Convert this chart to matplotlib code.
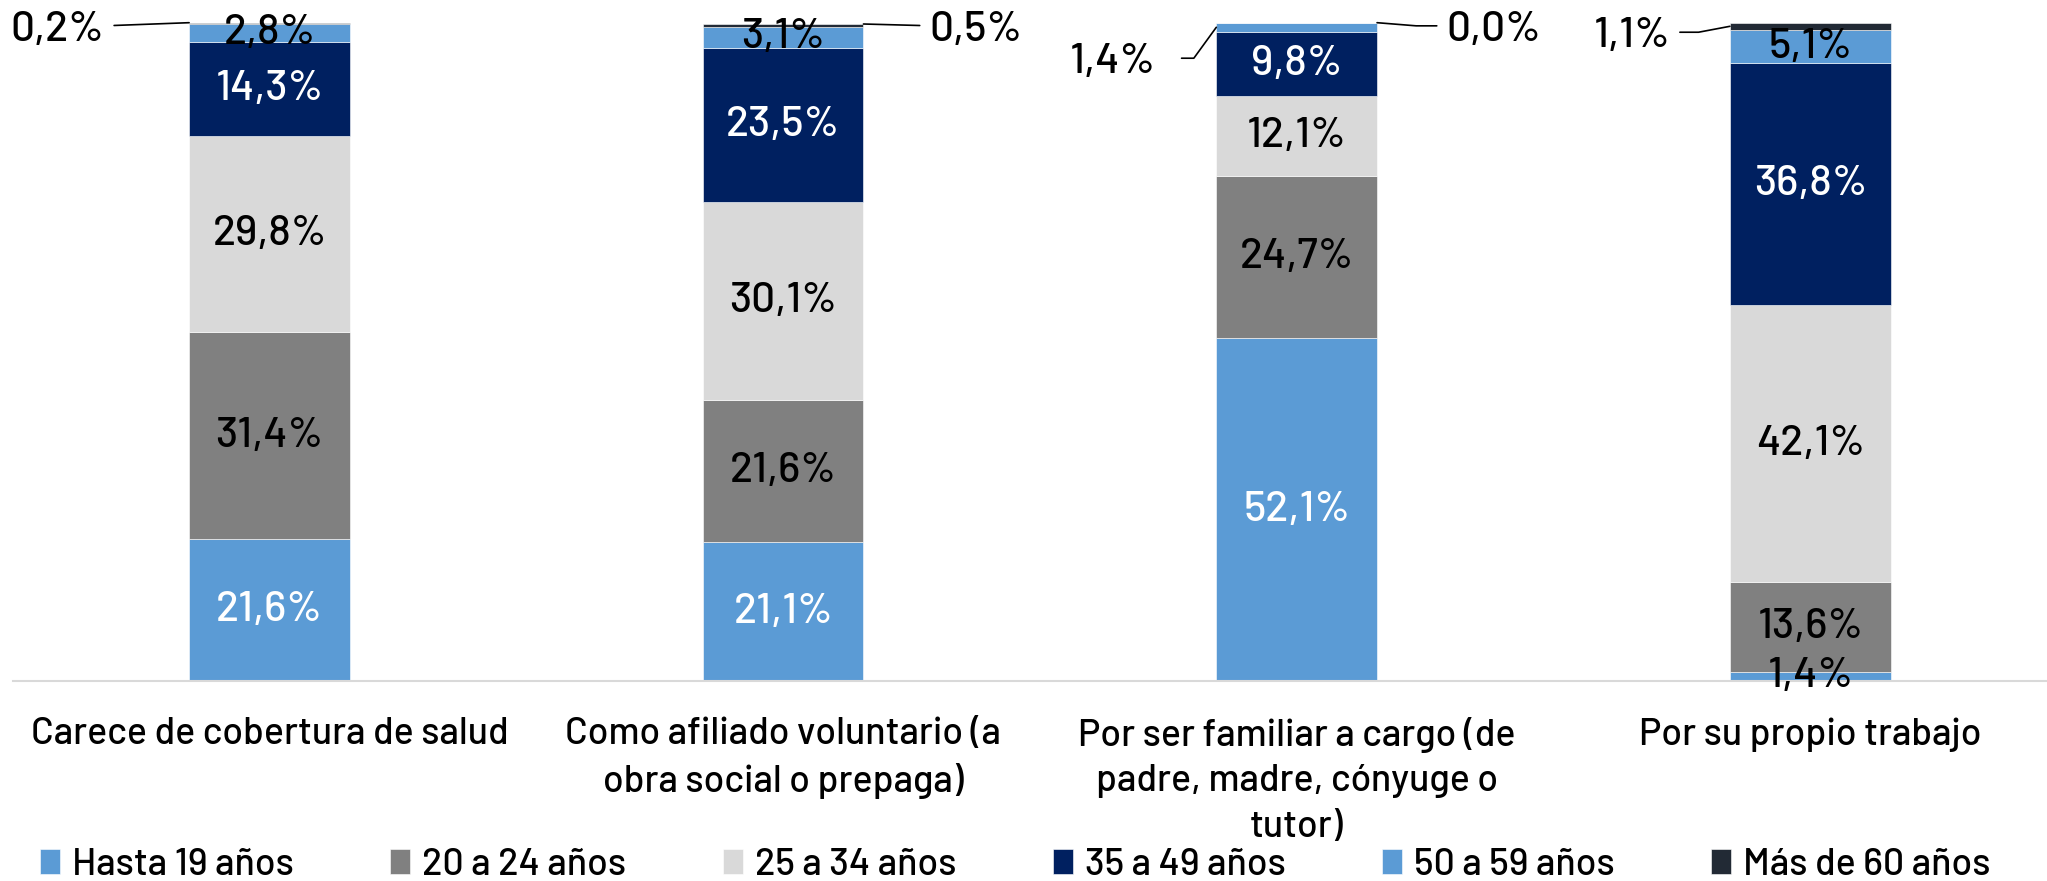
import matplotlib.pyplot as plt
import numpy as np

categorias = ["Carece de cobertura de salud",
              "Como afiliado voluntario (a\nobra social o prepaga)",
              "Por ser familiar a cargo (de\npadre, madre, cónyuge o\ntutor)",
              "Por su propio trabajo"]
series = ["Hasta 19 años", "20 a 24 años", "25 a 34 años",
          "35 a 49 años", "50 a 59 años", "Más de 60 años"]
hasta19 = [21.6, 21.1, 52.1, 1.4]
de20a24 = [31.4, 21.6, 24.7, 13.6]
de25a34 = [29.8, 30.1, 12.1, 42.1]
de35a49 = [14.3, 23.5, 9.8, 36.8]
de50a59 = [2.8, 3.1, 1.4, 5.1]
mas60 = [0.2, 0.5, 0.0, 1.1]

valores = [hasta19, de20a24, de25a34, de35a49, de50a59, mas60]
colores = ["#5B9BD5", "#808080", "#D9D9D9", "#002060", "#5B9BD5", "#222A35"]
color_texto = ["white", "black", "black", "white", "black", "black"]

plt.rcParams['font.family'] = ['Barlow', 'Roboto', 'DejaVu Sans']
plt.rcParams['font.weight'] = 'medium'

fig = plt.figure(figsize=(20.47, 8.81), dpi=100)
ax = fig.add_axes([0.0062, 0.227, 1.0036, 0.7465])

x = np.arange(len(categorias))
ancho = 0.313
base = np.zeros(len(categorias))
for i, (vals, nombre) in enumerate(zip(valores, series)):
    vals = np.array(vals)
    ax.bar(x, vals, ancho, bottom=base, color=colores[i], label=nombre,
           edgecolor="white", linewidth=0.4, clip_on=False)
    for j in range(len(x)):
        afuera = (i == 5) or (i == 4 and j == 2)
        if afuera:
            continue
        c = color_texto[i]
        if vals[j] < 2:  # etiqueta que cae sobre el eje
            c = "black"
        ax.text(x[j], base[j] + vals[j] / 2, f"{vals[j]:.1f}%".replace(".", ","),
                ha="center", va="center", fontsize=30.5, color=c)
    base = base + vals

tops = base


# etiquetas externas con líneas guía (offset en puntos desde el borde de la barra)
def guia(j, y, lado, dx, dy, conexion, gap, txt):
    xb = x[j] + lado * ancho / 2
    ax.annotate(txt, xy=(xb, y), xytext=(dx, dy), textcoords="offset points",
                ha="right" if lado < 0 else "left", va="center", fontsize=30.5,
                annotation_clip=False,
                arrowprops=dict(arrowstyle="-", color="black", lw=1.2,
                                relpos=(1 if lado < 0 else 0, 0.6), patchA=None,
                                shrinkA=gap, shrinkB=0, connectionstyle=conexion))


guia(0, tops[0], -1, -61, -5, "arc3,rad=0", 7, "0,2%")
guia(1, tops[1], 1, 47.5, -4, "arc3,rad=0", 7, "0,5%")
guia(2, tops[2] - 0.7, -1, -44, -25, "angle,angleA=0,angleB=54,rad=0", 19, "1,4%")
guia(2, tops[2], 1, 50, -5, "angle,angleA=0,angleB=-4.6,rad=0", 7, "0,0%")
guia(3, tops[3] - 0.55, -1, -43, -7, "angle,angleA=0,angleB=10.7,rad=0", 7, "1,1%")

ax.set_xlim(-0.5, 3.5)
ax.set_ylim(0, 100)
ax.set_yticks([])
ax.set_xticks(x)
ax.set_xticklabels(categorias, fontsize=27, linespacing=1.42)
ax.tick_params(axis="x", length=0, pad=26)
for s in ["top", "left", "right"]:
    ax.spines[s].set_visible(False)
ax.spines["bottom"].set_color("#D9D9D9")
ax.spines["bottom"].set_linewidth(1.5)

fig.legend(loc="center left", bbox_to_anchor=(0.0195, 0.018, 0.953, 0.0), mode="expand",
           ncol=6, fontsize=27, frameon=False, handlelength=0.53, handleheight=0.65,
           handletextpad=0.32, borderaxespad=0.0, borderpad=0.0)

fig.savefig("out.png", dpi=100)
